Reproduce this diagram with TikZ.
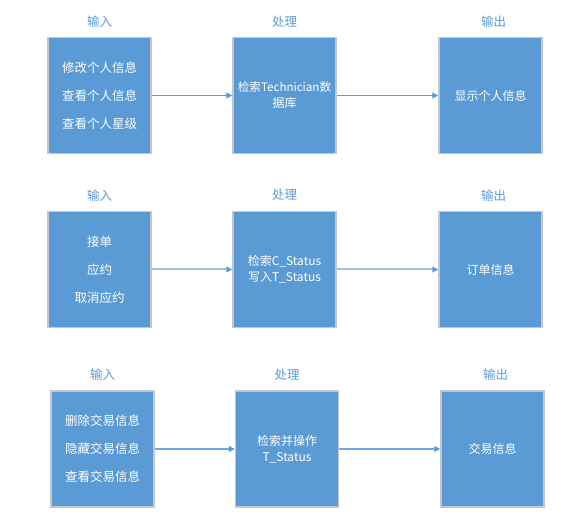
\documentclass[tikz,border=0pt]{standalone}
\usepackage{fontspec}
\setmainfont{Noto Sans CJK SC}
\usetikzlibrary{arrows.meta,positioning}
\definecolor{boxblue}{HTML}{5B9BD5}
\definecolor{midblue}{HTML}{70A8DE}
\definecolor{paleblue}{HTML}{9DC3E6}
\definecolor{boxedge}{HTML}{C4C8CE}
\tikzset{
  block/.style={draw=boxedge,line width=1.5pt,fill=boxblue,text=white,
    minimum width=103pt,minimum height=116pt,inner sep=0pt,align=center,
    font=\fontsize{12}{16}\selectfont},
  listing/.style={block,font=\fontsize{12.5}{17}\selectfont},
  title/.style={text=boxblue,inner sep=0pt,font=\fontsize{12.5}{15}\selectfont},
  flow/.style={draw=boxblue,line width=1pt,-{Triangle[length=6pt,width=6pt,color=boxblue]}}
}
\begin{document}
\begin{tikzpicture}[x=1pt,y=-1pt]
\useasboundingbox(0,0)rectangle(586,526);
%first row
\node[listing](in1)at(99.5,95.5){修改个人信息\\[11pt]查看个人信息\\[11pt]查看个人星级};
\node[block](proc1)at(284.5,95.5){{\fontsize{11.6}{16}\selectfont 检索Technician数}\\据库};
\node[block](out1)at(490.5,95.5){显示个人信息};
\node[title,yshift=15pt](tin1)at(in1.north){输入};
\node[title,yshift=15pt](tproc1)at(proc1.north){处理};
\node[title,yshift=15pt,xshift=3pt](tout1)at(out1.north){输出};
\draw[flow](in1)--(proc1);
\draw[flow](proc1)--(out1);
%second row
\node[listing](in2)at(99.5,269.5){接单\\[11pt]应约\\[11pt]取消应约};
\node[block](proc2)at(284.5,269.5){检索C\_Status\\写入T\_Status};
\node[block](out2)at(490.5,269.5){订单信息};
\node[title,yshift=15.5pt](tin2)at(in2.north){输入};
\node[title,yshift=15.5pt](tproc2)at(proc2.north){处理};
\node[title,yshift=15.5pt,xshift=3pt](tout2)at(out2.north){输出};
\draw[flow,draw=paleblue,line width=2pt](in2)--(proc2);
\draw[flow,draw=paleblue,line width=2pt](proc2)--(out2);
%third row
\node[listing](in3)at(102.5,449){删除交易信息\\[11pt]隐藏交易信息\\[11pt]查看交易信息};
\node[block](proc3)at(287,449){检索并操作\\T\_Status};
\node[block](out3)at(492.5,449){交易信息};
\node[title,yshift=15.5pt](tin3)at(in3.north){输入};
\node[title,yshift=15.5pt](tproc3)at(proc3.north){处理};
\node[title,yshift=15.5pt,xshift=3pt](tout3)at(out3.north){输出};
\draw[flow,draw=midblue,line width=1.2pt](in3)--(proc3);
\draw[flow,draw=midblue,line width=1.2pt](proc3)--(out3);
\end{tikzpicture}
\end{document}
